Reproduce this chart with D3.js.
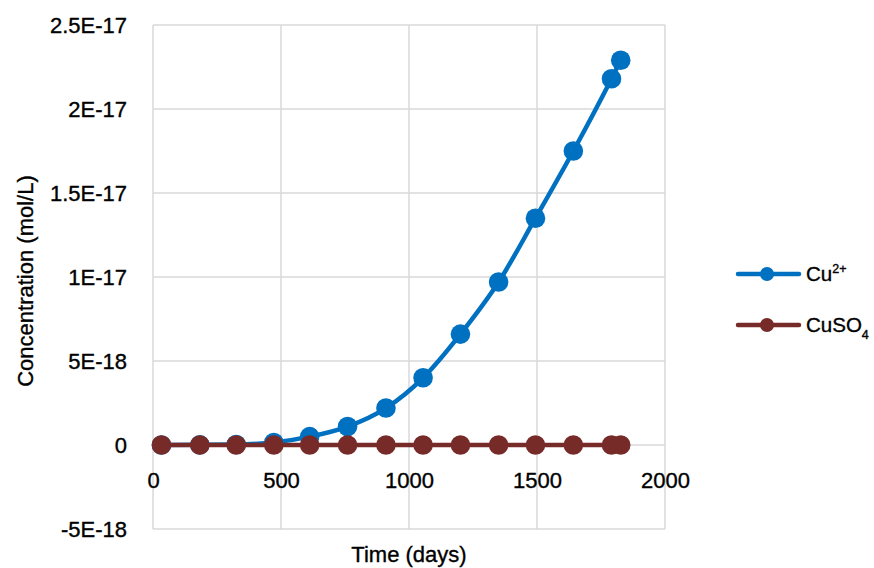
<!DOCTYPE html>
<html>
<head>
<meta charset="utf-8">
<script src="https://cdn.jsdelivr.net/npm/d3@7"></script>
<style>
  html, body { margin: 0; padding: 0; background: #fff; }
  svg { display: block; font-family: "Liberation Sans", Arial, sans-serif; }
  .lbl { stroke: #000; stroke-width: 0.35px; }
</style>
</head>
<body>
<svg id="chart" width="874" height="568"></svg>
<script>
// ---- data ----
const days = [33, 183, 325, 472, 612, 760, 910, 1055, 1201, 1350, 1494, 1642, 1791, 1827];
const cu2 = [0, 0.01e-18, 0.03e-18, 0.15e-18, 0.5e-18, 1.1e-18, 2.2e-18, 4.0e-18, 6.6e-18, 9.7e-18, 13.5e-18, 17.5e-18, 21.8e-18, 22.9e-18];
const cuso4 = [0, 0, 0, 0, 0, 0, 0, 0, 0, 0, 0, 0, 0, 0];
const yTickValues = [-5e-18, 0, 5e-18, 1e-17, 1.5e-17, 2e-17, 2.5e-17];
const yTickLabels = ["-5E-18", "0", "5E-18", "1E-17", "1.5E-17", "2E-17", "2.5E-17"];
const xTickValues = [0, 500, 1000, 1500, 2000];
const seriesNames = ["Cu2+", "CuSO4"];
const colors = ["#0070C0", "#772B29"];

(function () {
// ---- layout ----
const svg = d3.select("#chart");
const pL = 153, pR = 665, pT = 25, pB = 529;
const x = d3.scaleLinear().domain([0, 2000]).range([pL, pR]);
const y = d3.scaleLinear().domain([-5e-18, 2.5e-17]).range([pB, pT]);
const grid = "#d9d9d9";

// gridlines
svg.append("g").selectAll("line").data(yTickValues).join("line")
  .attr("x1", pL).attr("x2", pR)
  .attr("y1", d => y(d)).attr("y2", d => y(d))
  .attr("stroke", grid).attr("stroke-width", 1.5);
svg.append("g").selectAll("line").data(xTickValues).join("line")
  .attr("y1", pT).attr("y2", pB)
  .attr("x1", d => x(d)).attr("x2", d => x(d))
  .attr("stroke", grid).attr("stroke-width", 1.5);

// y axis labels
const yAxis = d3.axisLeft(y).tickValues(yTickValues)
  .tickFormat(d => yTickLabels[yTickValues.indexOf(d)]).tickSize(0).tickPadding(26);
const gy = svg.append("g").attr("transform", `translate(${pL},0)`).call(yAxis);
gy.select(".domain").remove();
gy.selectAll("text").attr("class", "lbl").attr("font-size", 22).attr("fill", "#000")
  .attr("font-family", "Liberation Sans, Arial, sans-serif").attr("dy", "0.36em");

// x axis labels (placed below zero line)
const xAxis = d3.axisBottom(x).tickValues(xTickValues).tickFormat(d3.format("d")).tickSize(0).tickPadding(27);
const gx = svg.append("g").attr("transform", `translate(0,${y(0)})`).call(xAxis);
gx.select(".domain").remove();
gx.selectAll("text").attr("class", "lbl").attr("font-size", 22).attr("fill", "#000")
  .attr("font-family", "Liberation Sans, Arial, sans-serif");

// axis titles
svg.append("text").attr("class", "lbl").attr("x", x(1000)).attr("y", 562)
  .attr("text-anchor", "middle").attr("font-size", 22).text("Time (days)");
svg.append("text").attr("class", "lbl").attr("transform", "translate(25,281) rotate(-90)")
  .attr("text-anchor", "middle").attr("dy", "0.35em").attr("font-size", 22).text("Concentration (mol/L)");

// series
const series = [cu2, cuso4];
series.forEach((vals, si) => {
  const pts = days.map((d, i) => [d, vals[i]]);
  const line = d3.line().x(d => x(d[0])).y(d => y(d[1])).curve(d3.curveMonotoneX);
  svg.append("path").datum(pts).attr("d", line)
    .attr("fill", "none").attr("stroke", colors[si]).attr("stroke-width", 4.5)
    .attr("stroke-linejoin", "round");
  svg.append("g").selectAll("circle").data(pts).join("circle")
    .attr("cx", d => x(d[0])).attr("cy", d => y(d[1])).attr("r", 9.8)
    .attr("fill", colors[si]);
});

// legend
const legY = [274, 325];
seriesNames.forEach((name, i) => {
  const g = svg.append("g");
  g.append("line").attr("x1", 738).attr("x2", 799).attr("y1", legY[i]).attr("y2", legY[i])
    .attr("stroke", colors[i]).attr("stroke-width", 4.5).attr("stroke-linecap", "round");
  g.append("circle").attr("cx", 767).attr("cy", legY[i]).attr("r", 7).attr("fill", colors[i]);
  const t = g.append("text").attr("class", "lbl").attr("x", 806).attr("y", legY[i] + 7).attr("font-size", 20.5);
  if (i === 0) {
    t.append("tspan").text("Cu");
    t.append("tspan").attr("font-size", 12.5).attr("dy", -8).text("2+");
  } else {
    t.append("tspan").text("CuSO");
    t.append("tspan").attr("font-size", 12.5).attr("dy", 7).text("4");
  }
});
})();
</script>
</body>
</html>
